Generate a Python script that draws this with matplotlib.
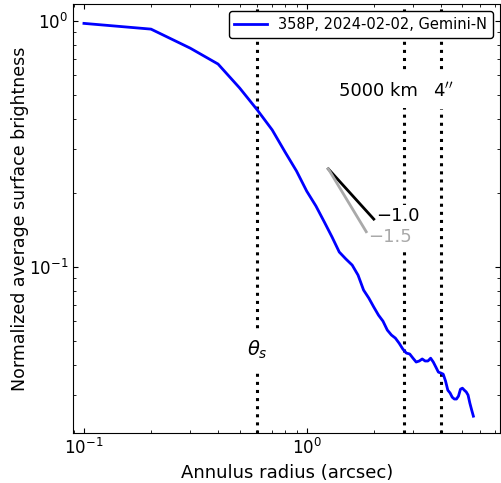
import matplotlib
matplotlib.use("Agg")
import matplotlib.pyplot as plt
from matplotlib.ticker import NullFormatter

# radial profile (arcsec, normalized surface brightness)
radius = [0.1, 0.2, 0.3, 0.4, 0.5, 0.6, 0.7, 0.8, 0.9, 1.0,
          1.1, 1.2, 1.3, 1.4, 1.5, 1.6, 1.7, 1.8, 1.9, 2.0,
          2.1, 2.2, 2.3, 2.4, 2.5, 2.6, 2.7, 2.8, 2.9, 3.0,
          3.1, 3.2, 3.3, 3.4, 3.5, 3.6, 3.7, 3.8, 3.9, 4.0,
          4.1, 4.2, 4.3, 4.4, 4.5, 4.6, 4.7, 4.8, 4.9, 5.0,
          5.1, 5.2, 5.3, 5.4, 5.5, 5.6]
brightness = [0.976, 0.925, 0.774, 0.667, 0.533, 0.434, 0.360, 0.2925, 0.245, 0.203,
              0.1766, 0.152, 0.132, 0.1148, 0.1075, 0.1016, 0.0925, 0.0804, 0.0746, 0.0686,
              0.0636, 0.0601, 0.0553, 0.0528, 0.0513, 0.0489, 0.0463, 0.0446, 0.0442, 0.0425,
              0.0410, 0.0414, 0.0422, 0.0414, 0.0414, 0.0425, 0.0410, 0.0391, 0.0373, 0.0370,
              0.0366, 0.0343, 0.0315, 0.0307, 0.0295, 0.0290, 0.0290, 0.0298, 0.0318, 0.0321,
              0.0315, 0.0310, 0.0301, 0.0279, 0.0262, 0.0247]

theta_s = 0.6      # seeing
r_5000km = 2.72    # 5000 km at comet distance
r_4arcsec = 4.0

# reference slopes
slope_x0, slope_y0 = 1.25, 0.25
slope_x1 = {-1.0: 2.0, -1.5: 1.85}

fig = plt.figure(figsize=(5.01, 4.83), dpi=100)
ax = fig.add_axes([0.1457, 0.1035, 0.853, 0.888])

ax.plot(radius, brightness, color='blue', lw=2, label='358P, 2024-02-02, Gemini-N')

for xv in (theta_s, r_5000km, r_4arcsec):
    ax.axvline(xv, color='black', ls=':', lw=2.2, zorder=1)

# power-law guides
for k, col in ((-1.0, 'black'), (-1.5, 'darkgray')):
    x1 = slope_x1[k]
    y1 = slope_y0 * (x1 / slope_x0) ** k
    ax.plot([slope_x0, x1], [slope_y0, y1], color=col, lw=2, zorder=4)
sbox = dict(facecolor='white', edgecolor='none', pad=1.5)
ax.text(2.04, 0.1607, '\u22121.0', color='black', fontsize=13, ha='left', va='center',
        bbox=sbox, zorder=3)
ax.text(1.877, 0.132, '\u22121.5', color='darkgray', fontsize=13, ha='left', va='center',
        bbox=sbox, zorder=3)

box = dict(facecolor='white', edgecolor='none', pad=6)
ax.text(2.10, 0.518, '5000 km', fontsize=13, ha='center', va='center', bbox=box)
ax.text(4.11, 0.518, r"4$''$", fontsize=13, ha='center', va='center', bbox=box)
ax.text(0.6, 0.0458, r'$\theta_s$', fontsize=14, ha='center', va='center', bbox=box)

ax.set_xscale('log')
ax.set_yscale('log')
ax.set_xlim(0.0893, 7.4)
ax.set_ylim(0.0211, 1.169)
ax.xaxis.set_minor_formatter(NullFormatter())
ax.yaxis.set_minor_formatter(NullFormatter())
ax.tick_params(which='both', direction='in', top=True, right=True, labelsize=12)

ax.set_xlabel('Annulus radius (arcsec)', fontsize=13)
ax.set_ylabel('Normalized average surface brightness', fontsize=12.5, labelpad=0)

leg = ax.legend(loc='upper right', fontsize=10.5, framealpha=1, edgecolor='black',
                handlelength=2.2, borderaxespad=0.5)

fig.savefig('out.png', dpi=100)
